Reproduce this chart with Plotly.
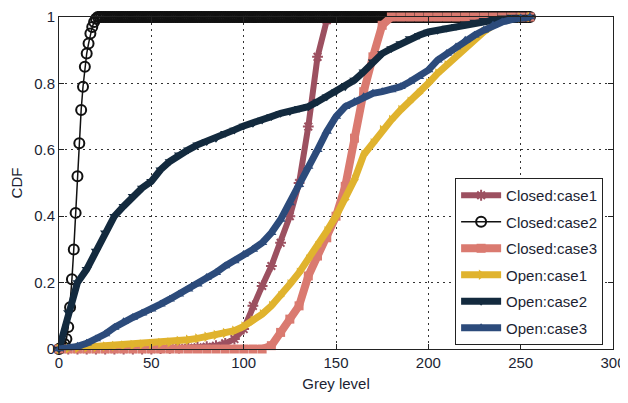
import plotly.graph_objects as go

# ---------------- data ----------------
grey = list(range(0, 256, 5))            # grey levels sampled every 5
grey_int = list(range(0, 256))           # every grey level (Closed:case2)

closed_case1 = [0, 0, 0, 0, 0, 0, 0, 0, 0, 0,
                0, 0.001, 0.002, 0.003, 0.004, 0.005, 0.007, 0.01, 0.017, 0.03,
                0.06, 0.13, 0.19, 0.25, 0.32, 0.40, 0.50, 0.67, 0.88, 0.99] + [1.0] * 22

closed_case2 = [0, 0.003, 0.008, 0.015, 0.03, 0.066, 0.126, 0.21, 0.30, 0.41,
                0.52, 0.62, 0.72, 0.79, 0.85, 0.89, 0.92, 0.95, 0.97, 0.985,
                0.995] + [1.0] * 235

closed_case3 = [0.0] * 23 + [0.01, 0.05, 0.09, 0.13, 0.22, 0.28, 0.335, 0.40, 0.49,
                             0.635, 0.775, 0.88, 0.975] + [1.0] * 16

open_case1 = [0, 0.002, 0.003, 0.005, 0.006, 0.008, 0.009, 0.011, 0.012, 0.014,
              0.015, 0.018, 0.02, 0.024, 0.028, 0.032, 0.037, 0.042, 0.048, 0.055,
              0.068, 0.085, 0.105, 0.13, 0.16, 0.195, 0.23, 0.27, 0.31, 0.355,
              0.40, 0.45, 0.51, 0.585, 0.62, 0.66, 0.69, 0.72, 0.745, 0.77,
              0.80, 0.83, 0.855, 0.88, 0.91, 0.935, 0.955, 0.975, 0.99, 0.995,
              0.998, 1.0]

open_case2 = [0, 0.11, 0.20, 0.24, 0.295, 0.35, 0.40, 0.43, 0.46, 0.485,
              0.505, 0.54, 0.565, 0.585, 0.60, 0.615, 0.625, 0.635, 0.65, 0.66,
              0.672, 0.68, 0.69, 0.70, 0.71, 0.715, 0.725, 0.73, 0.745, 0.76,
              0.775, 0.79, 0.81, 0.835, 0.865, 0.89, 0.905, 0.92, 0.935, 0.945,
              0.955, 0.96, 0.967, 0.972, 0.98, 0.985, 0.99, 0.995, 0.998, 1.0,
              1.0, 1.0]

open_case3 = [0, 0.003, 0.008, 0.017, 0.03, 0.045, 0.065, 0.082, 0.095, 0.108,
              0.12, 0.135, 0.15, 0.165, 0.18, 0.195, 0.215, 0.23, 0.25, 0.265,
              0.285, 0.30, 0.32, 0.35, 0.39, 0.44, 0.495, 0.55, 0.60, 0.655,
              0.70, 0.73, 0.745, 0.76, 0.77, 0.775, 0.78, 0.79, 0.805, 0.82,
              0.84, 0.87, 0.89, 0.91, 0.93, 0.945, 0.96, 0.975, 0.985, 0.992,
              0.997, 1.0]

x_ticks = [0, 50, 100, 150, 200, 250, 300]
y_ticks = [0, 0.2, 0.4, 0.6, 0.8, 1]

FONT = "Liberation Sans, Arial, Helvetica, sans-serif"
TEXT = "#1c1f33"

series = [
    # name, x, y, color, line width, symbol, marker size, marker line width
    ("Closed:case1", grey, closed_case1, "#9C5060", 6, "asterisk-open", 9, 2),
    ("Closed:case2", grey_int, closed_case2, "#111111", 1.5, "circle-open", 10, 2),
    ("Closed:case3", grey, closed_case3, "#DA7A70", 8, "square", 9, 0),
    ("Open:case1", grey, open_case1, "#E0B32E", 7, "triangle-right", 9, 0),
    ("Open:case2", grey, open_case2, "#132A3E", 7, "triangle-down", 9, 0),
    ("Open:case3", grey, open_case3, "#2C4B7B", 7, "triangle-up", 9, 0),
]

fig = go.Figure()
for i, (name, xs, ys, col, lw, sym, ms, mlw) in enumerate(series):
    fig.add_trace(go.Scatter(
        x=xs, y=ys, name=name, mode="lines+markers",
        line=dict(color=col, width=lw),
        marker=dict(symbol=sym, size=ms, color=col, line=dict(color=col, width=mlw)),
        cliponaxis=False, legendgroup=f"g{i}",
    ))

# the page adds an 8px body margin, so the figure is 8px smaller each way
fig.update_layout(
    width=620, height=395,
    margin=dict(l=51, r=15, t=9, b=54, autoexpand=False),
    paper_bgcolor="white", plot_bgcolor="white",
    font=dict(family=FONT, size=15, color=TEXT),
    showlegend=True,
    legend=dict(
        x=0.715, y=0.515, xanchor="left", yanchor="top",
        bgcolor="white", bordercolor="#222222", borderwidth=1,
        font=dict(family=FONT, size=15, color=TEXT),
        itemwidth=40, tracegroupgap=4,
    ),
)

axis_common = dict(
    showline=True, linecolor="#222222", linewidth=1, mirror="ticks",
    ticks="inside", ticklen=5, tickcolor="#222222",
    showgrid=True, gridcolor="#333333", gridwidth=1, griddash="2px,4px",
    zeroline=False, automargin=False,
    tickfont=dict(family=FONT, size=15, color=TEXT),
)

fig.update_xaxes(range=[0, 300], tickvals=x_ticks, ticktext=[str(v) for v in x_ticks],
                 title=dict(text="Grey level", font=dict(family=FONT, size=15, color=TEXT), standoff=8),
                 **axis_common)
fig.update_yaxes(range=[0, 1], tickvals=y_ticks, ticktext=["0", "0.2", "0.4", "0.6", "0.8", "1"],
                 title=dict(text="CDF", font=dict(family=FONT, size=15, color=TEXT), standoff=8),
                 **axis_common)

fig.write_html("out.html")
